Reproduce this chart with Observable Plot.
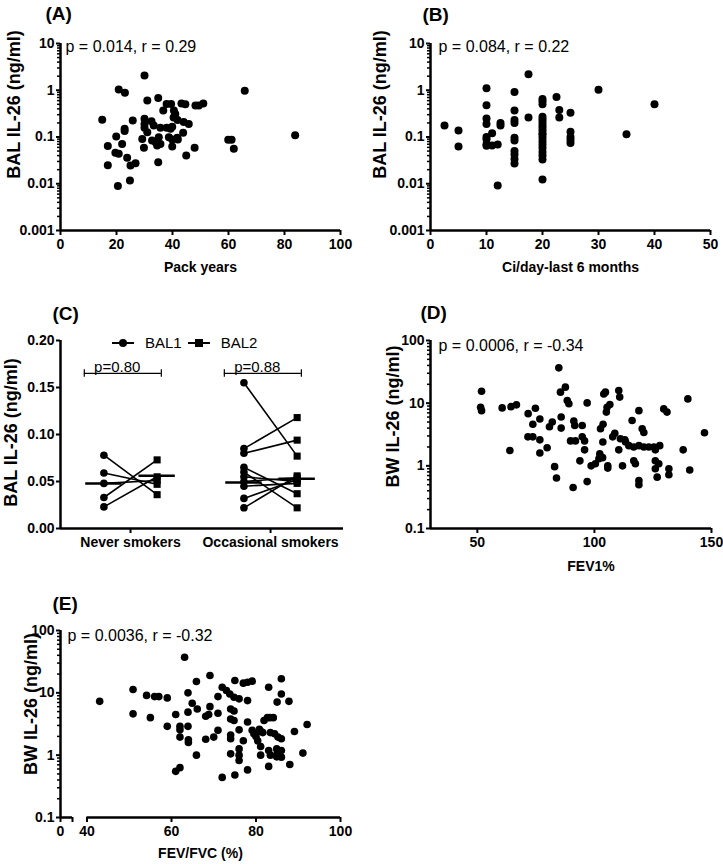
<!DOCTYPE html>
<html>
<head>
<meta charset="utf-8">
<script src="https://cdn.jsdelivr.net/npm/d3@7"></script>
<script src="https://cdn.jsdelivr.net/npm/@observablehq/plot@0.6"></script>
<style>
  body { margin: 0; background: #fff; }
  #root { position: relative; width: 723px; height: 864px; font-family: "Liberation Sans", Arial, sans-serif; background: #fff; }
  .panel { position: absolute; }
  .legend { position: absolute; display: flex; align-items: center; font-size: 15px; font-weight: normal; color: #000; white-space: nowrap; }
  .legend svg { display: block; }
</style>
</head>
<body>
<div id="root"></div>
<script>
// ---------------- DATA ----------------
// (A) BAL IL-26 vs pack years
const packYears = [14.9,30,20.8,23,65.8,83.8,31,34.9,37.9,39.5,43.2,44.6,48.2,51,49.4,36.7,40.5,41,40.4,41.8,44,45.8,25.8,30,30,30,32.5,33.3,35.7,37.9,39.3,39.9,31,29.2,32.7,33.9,35.1,35.7,34.5,38.7,39.9,41.9,43.8,39.9,47.9,44.9,29.8,34.9,19.9,22,16.9,19.6,20.8,22.9,22.9,23.8,25,26.8,16.9,24.8,20.5,59.9,61.1,61.9,41.7];
const balA = [0.233,2.07,1.04,0.88,0.97,0.109,0.6,0.68,0.51,0.51,0.52,0.5,0.47,0.52,0.47,0.37,0.37,0.31,0.26,0.23,0.21,0.19,0.225,0.245,0.19,0.157,0.218,0.176,0.157,0.157,0.15,0.165,0.127,0.091,0.084,0.078,0.099,0.071,0.066,0.099,0.088,0.088,0.123,0.063,0.059,0.04,0.059,0.029,0.102,0.071,0.064,0.046,0.044,0.15,0.134,0.036,0.0245,0.0275,0.025,0.0117,0.0089,0.087,0.087,0.056,0.096];

// (B) BAL IL-26 vs cigarettes/day in last 6 months
const cigsPerDay = [2.5,5,5,10,10,10,10,10,10,10,10,11,11,12,12,12.5,12.5,15,15,15,15,15,15,15,15,15,15,17.5,17.5,20,20,20,20,20,20,20,20,20,20,20,20,20,20,20,20,20,20,20,22.5,23,23,25,25,25,25,25,30,35,40];
const balB = [0.176,0.138,0.063,1.1,0.48,0.25,0.19,0.1,0.09,0.07,0.065,0.12,0.066,0.069,0.0092,0.2,0.176,0.92,0.37,0.23,0.2,0.096,0.084,0.05,0.042,0.034,0.027,2.2,0.26,0.65,0.58,0.5,0.27,0.24,0.21,0.18,0.16,0.14,0.12,0.11,0.095,0.08,0.068,0.058,0.048,0.04,0.033,0.0123,0.72,0.38,0.26,0.33,0.13,0.1,0.087,0.074,1.02,0.115,0.5];

// (C) paired BAL1 / BAL2
const groups = ["Never smokers", "Occasional smokers"];
const neverBAL1 = [0.078,0.059,0.048,0.033,0.023];
const neverBAL2 = [0.036,0.047,0.051,0.073,0.055];
const occBAL1 = [0.155,0.085,0.080,0.065,0.060,0.055,0.050,0.045,0.032,0.022];
const occBAL2 = [0.077,0.118,0.094,0.037,0.022,0.050,0.054,0.048,0.052,0.056];
const mediansBAL1 = [0.048, 0.049];
const mediansBAL2 = [0.056, 0.053];
const pLabelsC = ["p=0.80", "p=0.88"];
const seriesC = ["BAL1", "BAL2"];

// (D) BW IL-26 vs FEV1%
const fev1 = [84.8,51.8,51.4,51.8,60.6,64.4,66.7,63.9,71.7,74.8,73.7,76.7,71.6,73.7,76.7,76.7,79.8,80.8,82,83,83.8,85.8,85.8,85.5,87.6,88.4,89.1,89.8,91.9,90.9,91.2,91.6,94.8,94.8,95.8,95.8,93.8,96.9,96.9,98.6,100.4,101.9,102.3,102.6,103.7,104,104.7,105.4,106.6,105.1,105.7,105.7,107.8,108.7,110.4,110.8,110.4,111.1,113.3,114.7,116.8,119,116.1,119,120.4,121.1,121.1,123.2,125.4,127.9,116.8,117.5,119,119,126,127.5,126,126.8,129.6,131,131.8,131.8,137.9,139.9,140.7,147,126,103.6,103.5,112,113];
const bwD = [36.6,15.5,8.6,7.6,8.4,8.8,9.4,1.76,6.8,8.3,4.6,5.6,2.9,2.9,2.6,1.6,1.94,4.2,5.0,0.97,0.64,6.0,4.0,15,18,11,9.8,2.5,2.5,0.45,5.2,4.4,4.4,2.9,2.5,1.8,1.2,10.1,0.56,1.0,1.08,1.3,1.55,3.9,4.6,14,15,8.6,9.5,7.2,1.0,0.92,2.9,3.3,15.9,12.5,1.8,2.7,2.4,2.1,2.0,2.1,5.3,7.6,3.9,3.4,2.0,2.0,2.0,2.1,1.2,1.08,0.58,0.5,1.2,1.08,0.9,0.66,8.1,7.2,0.9,0.72,1.8,11.7,0.86,3.37,1.8,2.4,1.35,1.0,2.6];

// (E) BW IL-26 vs FEV/FVC (%)
const fevFvc = [63.1,43,50.9,50.9,54.1,56,57,59,55,59,61,62,62,62,61,62,63.9,63.9,63.9,64,64,64.9,66.1,65.9,65.9,68.1,68.8,68.1,70,69.1,69.1,71,71,71,72,73,73.8,74.8,72,75,74,74.8,74,74.8,74,74,74,75,76,76,76,76,76,77,78,79.1,78,78,79.1,77,78,79.5,80,80.4,80.8,81.2,81.6,81.9,82.7,83.3,84.1,83,86,86,85,87.8,83.4,84.4,85.2,86,81.1,81.1,83,83.4,83,84.9,86,84.9,86,85,88,89.1,91.1,92.1];
const bwE = [37.3,7.3,11.3,4.6,9.1,8.7,8.7,8.3,4.0,2.9,4.5,2.9,2.55,1.95,0.55,0.63,10,4.9,2.9,1.76,1.6,6.8,5.5,15.2,1.0,4.2,4.5,1.8,1.95,6.0,19,8.7,4.7,2.5,12.3,10.9,9.6,8.5,0.44,0.48,5.5,5.1,3.8,3.6,2.1,1.83,1.05,15.8,8.0,2.55,1.26,1.0,0.82,14.3,14.8,15.4,7.5,3.4,2.5,1.7,0.58,2.2,2.0,1.7,2.6,2.4,2.3,3.6,4.0,4.0,4.0,12.3,16.8,9.6,7.1,7.3,2.3,2.2,1.95,1.83,1.38,1.0,1.19,1.0,0.66,1.26,1.19,0.94,0.93,1.05,0.71,2.4,1.08,3.1];

// tick values and labels
const balTicks = [0.001, 0.01, 0.1, 1, 10];
const bwTicks = [0.1, 1, 10, 100];
const packTicks = [0, 20, 40, 60, 80, 100];
const cigTicks = [0, 10, 20, 30, 40, 50];
const fev1Ticks = [50, 100, 150];
const fevFvcTicks = [40, 60, 80, 100];
const fevFvcStubLabel = "0";      // label of the short stub before the axis break
const cTicks = [0, 0.05, 0.10, 0.15, 0.20];

const titles = {
  A: {letter: "(A)", stat: "p = 0.014, r = 0.29", x: "Pack years", y: "BAL IL-26 (ng/ml)"},
  B: {letter: "(B)", stat: "p = 0.084, r = 0.22", x: "Ci/day-last 6 months", y: "BAL IL-26 (ng/ml)"},
  C: {letter: "(C)", y: "BAL IL-26 (ng/ml)"},
  D: {letter: "(D)", stat: "p = 0.0006, r = -0.34", x: "FEV1%", y: "BW IL-26 (ng/ml)"},
  E: {letter: "(E)", stat: "p = 0.0036, r = -0.32", x: "FEV/FVC (%)", y: "BW IL-26 (ng/ml)"}
};

// ---------------- DRAWING ----------------
const FONT = '"Liberation Sans", Arial, sans-serif';
const baseStyle = {fontFamily: FONT, fontSize: "14px", fontWeight: "bold", color: "black", background: "white", overflow: "visible"};
const root = document.getElementById("root");

function place(node, left, top) {
  const div = document.createElement("div");
  div.className = "panel";
  div.style.left = left + "px";
  div.style.top = top + "px";
  div.appendChild(node);
  root.appendChild(div);
  return div;
}

function textMarks(t, o) {
  const marks = [
    Plot.text([t.letter], {text: d => d, frameAnchor: "top-left", dx: o.letter[0], dy: o.letter[1], textAnchor: "start", lineAnchor: "middle", fontSize: 19, fontWeight: "bold"}),
    Plot.text([t.y], {text: d => d, frameAnchor: "left", rotate: -90, dx: o.ytitle[0], dy: o.ytitle[1], textAnchor: "middle", lineAnchor: "middle", fontSize: 18, fontWeight: "bold"})
  ];
  if (t.stat) marks.push(Plot.text([t.stat], {text: d => d, frameAnchor: "top-left", dx: o.stat[0], dy: o.stat[1], textAnchor: "start", lineAnchor: "middle", fontSize: 16, fontWeight: "normal"}));
  if (t.x) marks.push(Plot.text([t.x], {text: d => d, frameAnchor: "bottom", dx: o.xtitle[0], dy: o.xtitle[1], textAnchor: "middle", lineAnchor: "middle", fontSize: 14, fontWeight: "bold"}));
  return marks;
}

function logScatter(o) {
  const rows = o.xs.map((x, i) => ({x, y: o.ys[i]}));
  const [y0, y1] = o.yDomain;
  const minor = [];
  for (let e = Math.round(Math.log10(y0)); e < Math.round(Math.log10(y1)); e++)
    for (let k = 2; k <= 9; k++) minor.push(k * Math.pow(10, e));
  const xAxisLine = o.xSegments
    ? Plot.ruleY(o.xSegments, {y: () => y0, x1: d => d[0], x2: d => d[1], strokeWidth: 2.5})
    : Plot.ruleY([y0], {strokeWidth: 2.5});
  return Plot.plot({
    width: o.width, height: o.height,
    marginLeft: o.ml, marginRight: o.mr, marginTop: o.mt, marginBottom: o.mb,
    style: baseStyle,
    x: o.xScale,
    y: {type: "log", domain: o.yDomain},
    marks: [
      Plot.axisY(minor, {tickSize: 3, strokeWidth: 1.5, tickFormat: () => "", label: null}),
      Plot.axisY(o.yTicks, {tickSize: 4, tickPadding: 2, strokeWidth: 2, tickFormat: d => String(d), label: null}),
      Plot.axisX(o.xTicks, {tickSize: 5, tickPadding: 4, strokeWidth: 2, tickFormat: o.xFormat || (d => String(d)), label: null}),
      Plot.ruleX([o.xScale.domain[0]], {strokeWidth: 2.5}),
      xAxisLine,
      Plot.dot(rows, {x: "x", y: "y", r: o.r, fill: "black", stroke: "none"}),
      ...textMarks(o.titles, o.pos)
    ]
  });
}

// Panel A
place(logScatter({
  xs: packYears, ys: balA, width: 360, height: 290, ml: 60, mr: 20, mt: 43, mb: 60,
  xScale: {domain: [0, 100]}, xTicks: packTicks, yDomain: [0.001, 10], yTicks: balTicks, r: 4,
  titles: titles.A,
  pos: {letter: [-15, -29.5], ytitle: [-46, -32.5], stat: [5, 3], xtitle: [0, 37]}
}), 0, 0);

// Panel B
place(logScatter({
  xs: cigsPerDay, ys: balB, width: 363, height: 290, ml: 70, mr: 13, mt: 43, mb: 60,
  xScale: {domain: [0, 50]}, xTicks: cigTicks, yDomain: [0.001, 10], yTicks: balTicks, r: 4,
  titles: titles.B,
  pos: {letter: [-8, -29], ytitle: [-50, -32.5], stat: [8, 3], xtitle: [0, 37]}
}), 360, 0);

// Panel D
place(logScatter({
  xs: fev1, ys: bwD, width: 363, height: 290, ml: 70, mr: 12, mt: 50, mb: 52,
  xScale: {domain: [30, 150]}, xTicks: fev1Ticks, yDomain: [0.1, 100], yTicks: bwTicks, r: 3.8,
  titles: titles.D,
  pos: {letter: [-10, -28], ytitle: [-37, -18], stat: [8, 5], xtitle: [20, 38]}
}), 360, 290);

// Panel E: broken x axis. The main segment runs 40–100; a short stub labelled "0"
// sits left of the break (stub start / end expressed in the main segment's units).
(function () {
  const plotW = 360 - 60 - 20;                  // frame width in px
  const pxPerUnit = (plotW - 26.5) / 60;        // 40..100 fills the frame after a 26.5px stub+gap
  const stubStart = 40 - 26.5 / pxPerUnit;
  const stubEnd = 40 - 14.5 / pxPerUnit;
  place(logScatter({
    xs: fevFvc, ys: bwE, width: 360, height: 294, ml: 60, mr: 20, mt: 60, mb: 47,
    xScale: {domain: [stubStart, 100]},
    xTicks: [stubStart, stubEnd, ...fevFvcTicks],
    xFormat: d => (d === stubStart ? fevFvcStubLabel : d === stubEnd ? "" : String(d)),
    xSegments: [[stubStart, stubEnd], [40, 100]],
    yDomain: [0.1, 100], yTicks: bwTicks, r: 3.8,
    titles: titles.E,
    pos: {letter: [-8, -27], ytitle: [-29, -20], stat: [7, 5], xtitle: [0, 36]}
  }), 0, 570);
})();

// Panel C
(function () {
  const OFF = 0.19;   // horizontal offset of BAL1 / BAL2 within each group
  const pairs = [];
  [[neverBAL1, neverBAL2], [occBAL1, occBAL2]].forEach(([a, b], g) => {
    a.forEach((v, i) => pairs.push({g, v1: v, v2: b[i]}));
  });
  const pts1 = pairs.map(p => ({x: p.g - OFF, y: p.v1}));
  const pts2 = pairs.map(p => ({x: p.g + OFF, y: p.v2}));
  const meds = [
    ...mediansBAL1.map((v, g) => ({x: g - OFF, y: v})),
    ...mediansBAL2.map((v, g) => ({x: g + OFF, y: v}))
  ];
  const BR = 0.165;  // bracket height
  const brackets = pLabelsC.map((label, g) => ({label, x1: g - 0.33, x2: g + 0.22}));
  const svg = Plot.plot({
    width: 360, height: 290, marginLeft: 60, marginRight: 17, marginTop: 50, marginBottom: 52,
    style: baseStyle,
    x: {domain: [-0.5, 1.521]},
    y: {domain: [0, 0.2]},
    marks: [
      Plot.axisY(cTicks, {tickSize: 4, tickPadding: 2, strokeWidth: 2, tickFormat: d3.format(".2f"), label: null}),
      Plot.axisX([0, 1], {tickSize: 5, tickPadding: 4, strokeWidth: 2, tickFormat: i => groups[i], label: null}),
      Plot.ruleX([-0.5], {strokeWidth: 2.5}),
      Plot.ruleY([0], {strokeWidth: 2.5}),
      Plot.link(pairs, {x1: p => p.g - OFF, y1: "v1", x2: p => p.g + OFF, y2: "v2", stroke: "black", strokeWidth: 1.6}),
      Plot.ruleY(meds, {y: "y", x1: d => d.x - 0.13, x2: d => d.x + 0.13, stroke: "black", strokeWidth: 2.5}),
      Plot.dot(pts1, {x: "x", y: "y", r: 3.8, symbol: "circle", fill: "black", stroke: "none"}),
      Plot.dot(pts2, {x: "x", y: "y", r: 4, symbol: "square", fill: "black", stroke: "none"}),
      Plot.ruleY(brackets, {y: () => BR, x1: "x1", x2: "x2", stroke: "black", strokeWidth: 1.2}),
      Plot.ruleX(brackets.flatMap(b => [b.x1, b.x2]), {y1: BR - 0.004, y2: BR + 0.004, stroke: "black", strokeWidth: 1.2}),
      Plot.text(brackets, {x: d => d.x1 + 0.07, y: () => BR, text: "label", textAnchor: "start", lineAnchor: "bottom", dy: -1, fontSize: 15, fontWeight: "normal"}),
      ...textMarks(titles.C, {letter: [-8, -27], ytitle: [-49, -2]})
    ]
  });
  place(svg, 0, 290);

  // legend (line + symbol swatches)
  const leg = document.createElement("div");
  leg.className = "legend";
  leg.style.left = "112px";
  leg.style.top = "334px";
  const shapes = {BAL1: '<circle cx="11" cy="8" r="4" fill="black"/>', BAL2: '<rect x="7" y="4" width="8" height="8" fill="black"/>'};
  leg.innerHTML = seriesC.map((s, i) =>
    `<svg width="22" height="16"><line x1="0" y1="8" x2="22" y2="8" stroke="black" stroke-width="2"/>${shapes[s]}</svg>` +
    `<span style="margin-left:11px;margin-right:${i === 0 ? 6 : 0}px">${s}</span>`).join("");
  root.appendChild(leg);
})();
</script>
</body>
</html>
